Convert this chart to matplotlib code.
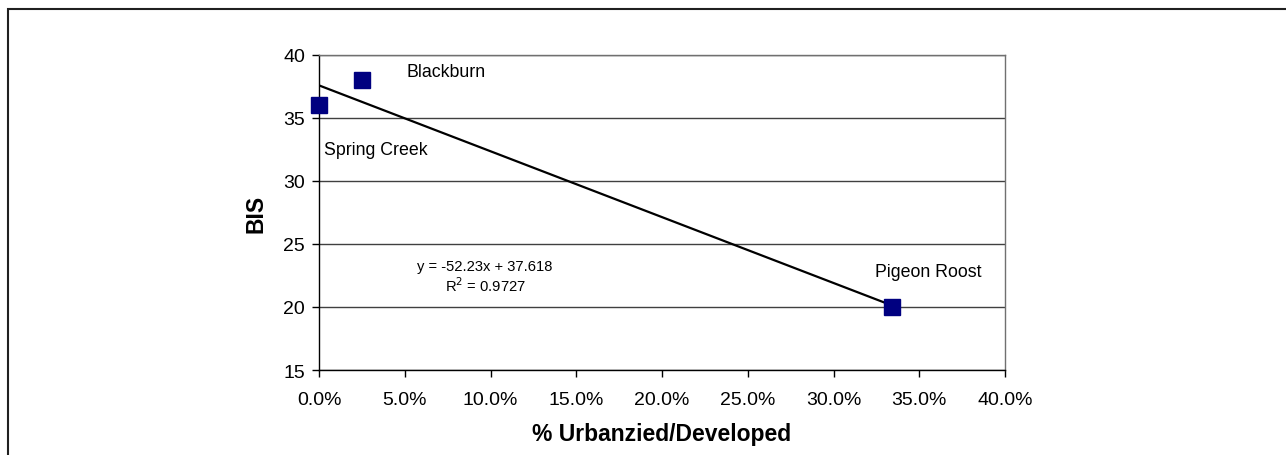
import numpy as np
import matplotlib.pyplot as plt
from matplotlib.patches import Rectangle
from matplotlib.ticker import PercentFormatter

plt.rcParams['font.family'] = ['Liberation Sans', 'DejaVu Sans']

# data
sites = ['Spring Creek', 'Blackburn', 'Pigeon Roost']
urban = np.array([0.0, 0.025, 0.334])
bis = np.array([36, 38, 20])

# label positions (data coords)
lab_x = [0.003, 0.051, 0.324]
lab_y = [32.5, 38.7, 22.85]

W, H = 1286, 456
fig = plt.figure(figsize=(W / 100, H / 100), dpi=100)
ax = fig.add_axes([319 / W, 1 - 371 / H, (1005 - 319) / W, (371 - 56) / H])

# outer chart border (only top and left visible)
fig.patches.append(Rectangle((8 / W, -0.1), 1.2, 1 - 10 / H + 0.1, transform=fig.transFigure,
                             fill=False, edgecolor='#202020', lw=1.5))

ax.set_xlim(0, 0.4)
ax.set_ylim(15, 40)
ax.set_xticks(np.arange(0, 0.41, 0.05))
ax.set_yticks(np.arange(15, 41, 5))
ax.xaxis.set_major_formatter(PercentFormatter(1.0, decimals=1))
ax.grid(axis='y', color='#404040', lw=1.0)
ax.set_axisbelow(True)
for s in ['top', 'right']:
    ax.spines[s].set_color('#707070')
    ax.spines[s].set_linewidth(1.0)
for s in ['left', 'bottom']:
    ax.spines[s].set_color('black')
    ax.spines[s].set_linewidth(1.0)
ax.tick_params(direction='out', length=5, width=1, labelsize=14, colors='black')
ax.tick_params(axis='x', pad=10)
ax.tick_params(axis='y', pad=5)

# linear trendline
m, b = np.polyfit(urban, bis, 1)
xs = np.array([urban.min(), urban.max()])
ax.plot(xs, m * xs + b, color='black', lw=1.6, zorder=3)

ax.plot(urban, bis, 's', color='#000080', ms=11.5, zorder=4, clip_on=False)

for name, x, y in zip(sites, lab_x, lab_y):
    ax.text(x, y, name, fontsize=12.8, ha='left', va='center', color='black')

ax.text(0.0968, 23.25, 'y = -52.23x + 37.618', fontsize=10.6, ha='center', va='center')
ax.text(0.0968, 21.75, 'R$^2$ = 0.9727', fontsize=10.6, ha='center', va='center')

ax.set_ylabel('BIS', fontsize=16.5, fontweight='bold', labelpad=11)
ax.set_xlabel('% Urbanzied/Developed', fontsize=16.5, fontweight='bold', labelpad=10)

fig.savefig('out.png', dpi=100)
